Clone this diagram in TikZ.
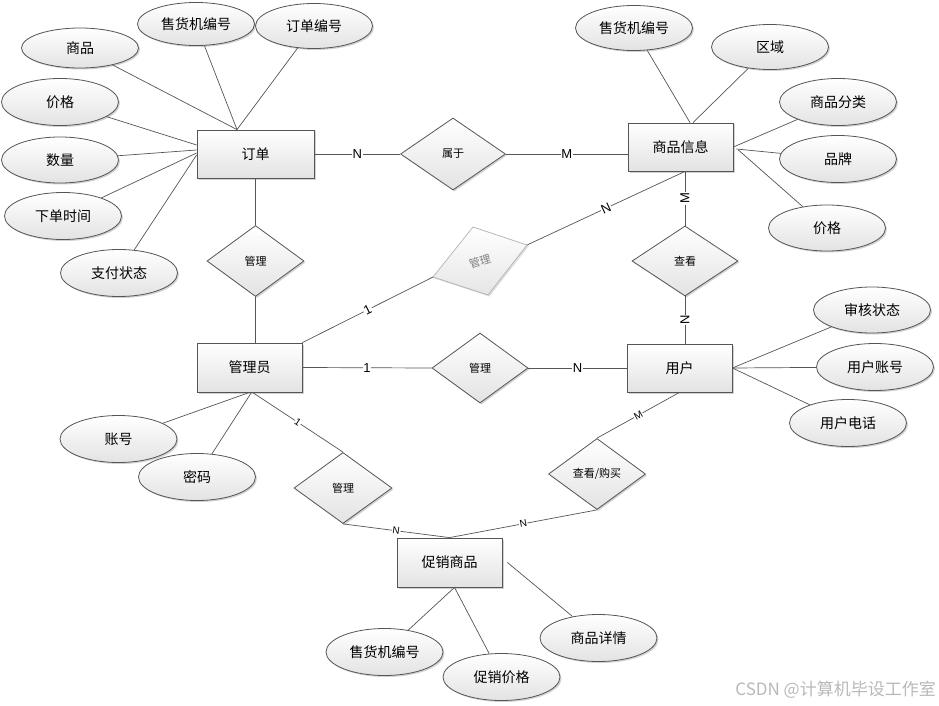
\documentclass[tikz,border=0pt]{standalone}
\usepackage{fontspec}
\setmainfont{Liberation Sans}
\newfontfamily\cjk{Noto Sans CJK SC}
\usetikzlibrary{shapes.geometric,shadows,calc}
\definecolor{ln}{RGB}{85,85,85}
\tikzset{
 base/.style={draw=ln, line width=0.8pt, top color=white, bottom color=gray!22,
   drop shadow={shadow xshift=1.5pt, shadow yshift=-1.5pt, fill=gray, opacity=0.35},
   font=\cjk\fontsize{14}{16}\selectfont, inner sep=0pt},
 ent/.style={base, rectangle, minimum width=105pt, minimum height=48pt},
 attr/.style={base, ellipse, minimum width=117pt, minimum height=45pt},
 rel/.style={base, diamond, minimum width=97pt, minimum height=71pt, font=\cjk\fontsize{11}{13}\selectfont},
 conn/.style={draw=ln, line width=0.7pt},
 card/.style={fill=white, inner sep=0.6pt, font=\fontsize{13}{14}\selectfont, midway},
 cards/.style={card, font=\fontsize{10}{11}\selectfont},
}
\begin{document}
\begin{tikzpicture}[x=1pt,y=-1pt]
\useasboundingbox[fill=white] (0,0) rectangle (939,706);
% entities
\node[ent, minimum width=117pt] (dd) at (255.5,154) {订单};
\node[ent] (sp) at (680.5,147) {商品信息};
\node[ent, minimum height=49pt] (gly) at (249.5,367.5) {管理员};
\node[ent] (yh) at (679.5,368) {用户};
\node[ent, minimum height=49pt] (cx) at (449.5,562.5) {促销商品};
% attributes
\node[attr, minimum height=40pt] (a1) at (80,48) {商品};
\node[attr, minimum height=43pt] (a2) at (196,24) {售货机编号};
\node[attr] (a3) at (314,26) {订单编号};
\node[attr, minimum height=47pt] (a4) at (60,102) {价格};
\node[attr, minimum height=46pt] (a5) at (60,160) {数量};
\node[attr, minimum height=47pt] (a6) at (63,216) {下单时间};
\node[attr, minimum height=47pt] (a7) at (119,273) {支付状态};
\node[attr] (b1) at (634,28) {售货机编号};
\node[attr] (b2) at (770,47) {区域};
\node[attr, minimum height=47pt] (b3) at (838,102) {商品分类};
\node[attr, minimum height=47pt] (b4) at (838,159) {品牌};
\node[attr, minimum height=46pt] (b5) at (827,228) {价格};
\node[attr, minimum height=46pt] (c1) at (872,310) {审核状态};
\node[attr, minimum height=47pt] (c2) at (875,367) {用户账号};
\node[attr, minimum height=47pt] (c3) at (848,423) {用户电话};
\node[attr, minimum height=47pt] (d1) at (118.5,439) {账号};
\node[attr, minimum height=47pt] (d2) at (197,477) {密码};
\node[attr, minimum height=47pt] (e1) at (384.5,652) {售货机编号};
\node[attr, minimum height=47pt] (e2) at (501.5,677) {促销价格};
\node[attr, minimum height=47pt] (e3) at (598.5,638) {商品详情};
% relationships
\node[rel, minimum width=105pt, minimum height=72pt] (r1) at (453,154) {属于};
\node[rel] (r2) at (255.5,261) {管理};
\node[rel, minimum width=96pt, minimum height=70pt] (r3) at (480,368) {管理};
\node[rel, minimum width=106pt, minimum height=70pt] (r4) at (685,261) {查看};
\node[rel] (r5) at (597,474) {查看/购买};
\node[rel, minimum width=98pt] (r6) at (343,488) {管理};
% grey skewed relationship
\coordinate (gL) at (433,277);
\coordinate (gT) at (473,227);
\coordinate (gR) at (527,245);
\coordinate (gB) at (488,295);
\path[draw=gray!60, line width=0.7pt, top color=white, bottom color=gray!20,
   drop shadow={shadow xshift=1.5pt, shadow yshift=-1.5pt, fill=gray, opacity=0.25}]
   (gL) -- (gT) -- (gR) -- (gB) -- cycle;
\node[text=gray, rotate=17, inner sep=0pt, font=\cjk\fontsize{11}{13}\selectfont] (gm) at (480,261) {管理};
% relationship connectors
\draw[conn] (dd.east) -- node[card]{N} (r1.west);
\draw[conn] (r1.east) -- node[card]{M} (r1.east -| sp.west);
\draw[conn] (dd.south) -- (r2.north);
\draw[conn] (r2.south) -- (r2.south |- gly.north);
\draw[conn] (gly.east) -- node[card]{1} (r3.west);
\draw[conn] (r3.east) -- node[card]{N} (yh.west);
\draw[conn] (r4.north |- sp.south) -- node[card, rotate=90]{M} (r4.north);
\draw[conn] (r4.south) -- node[card, rotate=90]{N} (r4.south |- yh.north);
\draw[conn] (gly.north east) -- node[card, sloped]{1} (gL);
\draw[conn] (gR) -- node[card, sloped]{N} (r4.north |- sp.south);
\draw[conn] (yh.south) -- node[cards, sloped]{M} (r5.north);
\draw[conn] (r5.south) -- node[cards, sloped]{N} (cx.north);
\draw[conn] ([xshift=3pt]gly.south) -- node[cards, sloped]{1} (r6.north);
\draw[conn] (r6.south) -- node[cards, sloped]{N} (cx.north);
% attribute connectors
\draw[conn] (a1) -- ([xshift=-18.5pt]dd.north);
\draw[conn] (a2) -- ([xshift=-18.5pt]dd.north);
\draw[conn] (a3) -- ([xshift=-18.5pt]dd.north);
\draw[conn] (a4) -- ([yshift=9pt]dd.west);
\draw[conn] (a5) -- ([yshift=4pt]dd.west);
\draw[conn] (a6) -- ([yshift=1pt]dd.west);
\draw[conn] (a7) -- ([yshift=-1pt]dd.west);
\draw[conn] (b1) -- ([xshift=9.5pt]sp.north);
\draw[conn] (b2) -- ([xshift=12.5pt]sp.north);
\draw[conn] (b3) -- (sp.east);
\draw[conn] (b4) -- ([xshift=3pt,yshift=-2pt]sp.east);
\draw[conn] (b5) -- ([xshift=5pt,yshift=-3pt]sp.east);
\draw[conn] (c1) -- (yh.east);
\draw[conn] (c2) -- (yh.east);
\draw[conn] (c3) -- (yh.east);
\draw[conn] (d1) -- (gly.south);
\draw[conn] (d2) -- ([xshift=2pt]gly.south);
\draw[conn] (e1) -- ([xshift=5pt]cx.south);
\draw[conn] (e2) -- ([xshift=5pt]cx.south);
\draw[conn] (e3) -- ([xshift=5pt]cx.east);
% watermark
\node[anchor=east, text=gray!55, inner sep=0pt, font=\cjk\fontsize{17}{19}\selectfont] (wm) at (936,690) {CSDN @计算机毕设工作室};
\end{tikzpicture}
\end{document}
